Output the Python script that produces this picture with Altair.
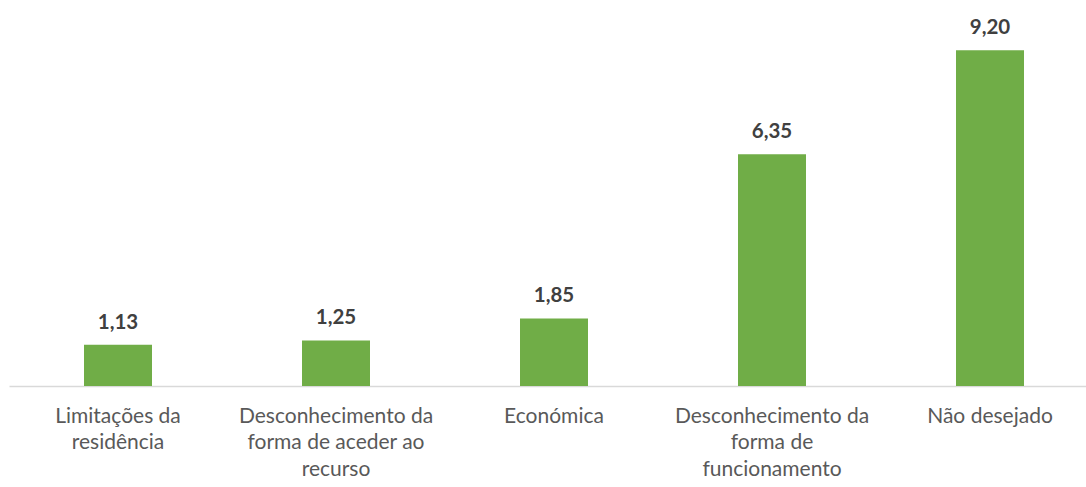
import altair as alt
import pandas as pd

categories = [
    "Limitações da|residência",
    "Desconhecimento da|forma de aceder ao|recurso",
    "Económica",
    "Desconhecimento da|forma de|funcionamento",
    "Não desejado",
]
values = [1.13, 1.25, 1.85, 6.35, 9.20]

df = pd.DataFrame({"cat": categories, "v": values})

base = alt.Chart(df).encode(
    x=alt.X("cat:N", sort=categories, title=None,
            scale=alt.Scale(paddingInner=0.688, paddingOuter=0.344, range=[0, 1090]),
            axis=alt.Axis(labelExpr="split(datum.label, '|')", labelAngle=0,
                          labelFont="Lato", labelFontSize=21, labelColor="#595959",
                          labelLineHeight=26.5, labelPadding=19, ticks=False, labelLimit=0,
                          domainColor="#D9D9D9", domainWidth=1.5, labelBaseline="top")),
    y=alt.Y("v:Q", scale=alt.Scale(domain=[0, 10], nice=False), axis=None),
)

bars = base.mark_bar(color="#70AD47", size=68)
text = base.transform_calculate(
    lab="replace(format(datum.v, '.2f'), '.', ',')"
).mark_text(dy=-12, baseline="bottom", font="Lato", fontSize=20.5,
            fontWeight="bold", color="#404040").encode(text="lab:N")

chart = (bars + text).properties(
    width=1077, height=365,
    background="white",
    autosize=alt.AutoSizeParams(type="none"),
    padding={"left": 9, "top": 21, "right": 0, "bottom": 101},
).configure_view(strokeWidth=0, stroke="transparent")

chart.save("out.html", embed_options={"renderer": "svg", "actions": False})
